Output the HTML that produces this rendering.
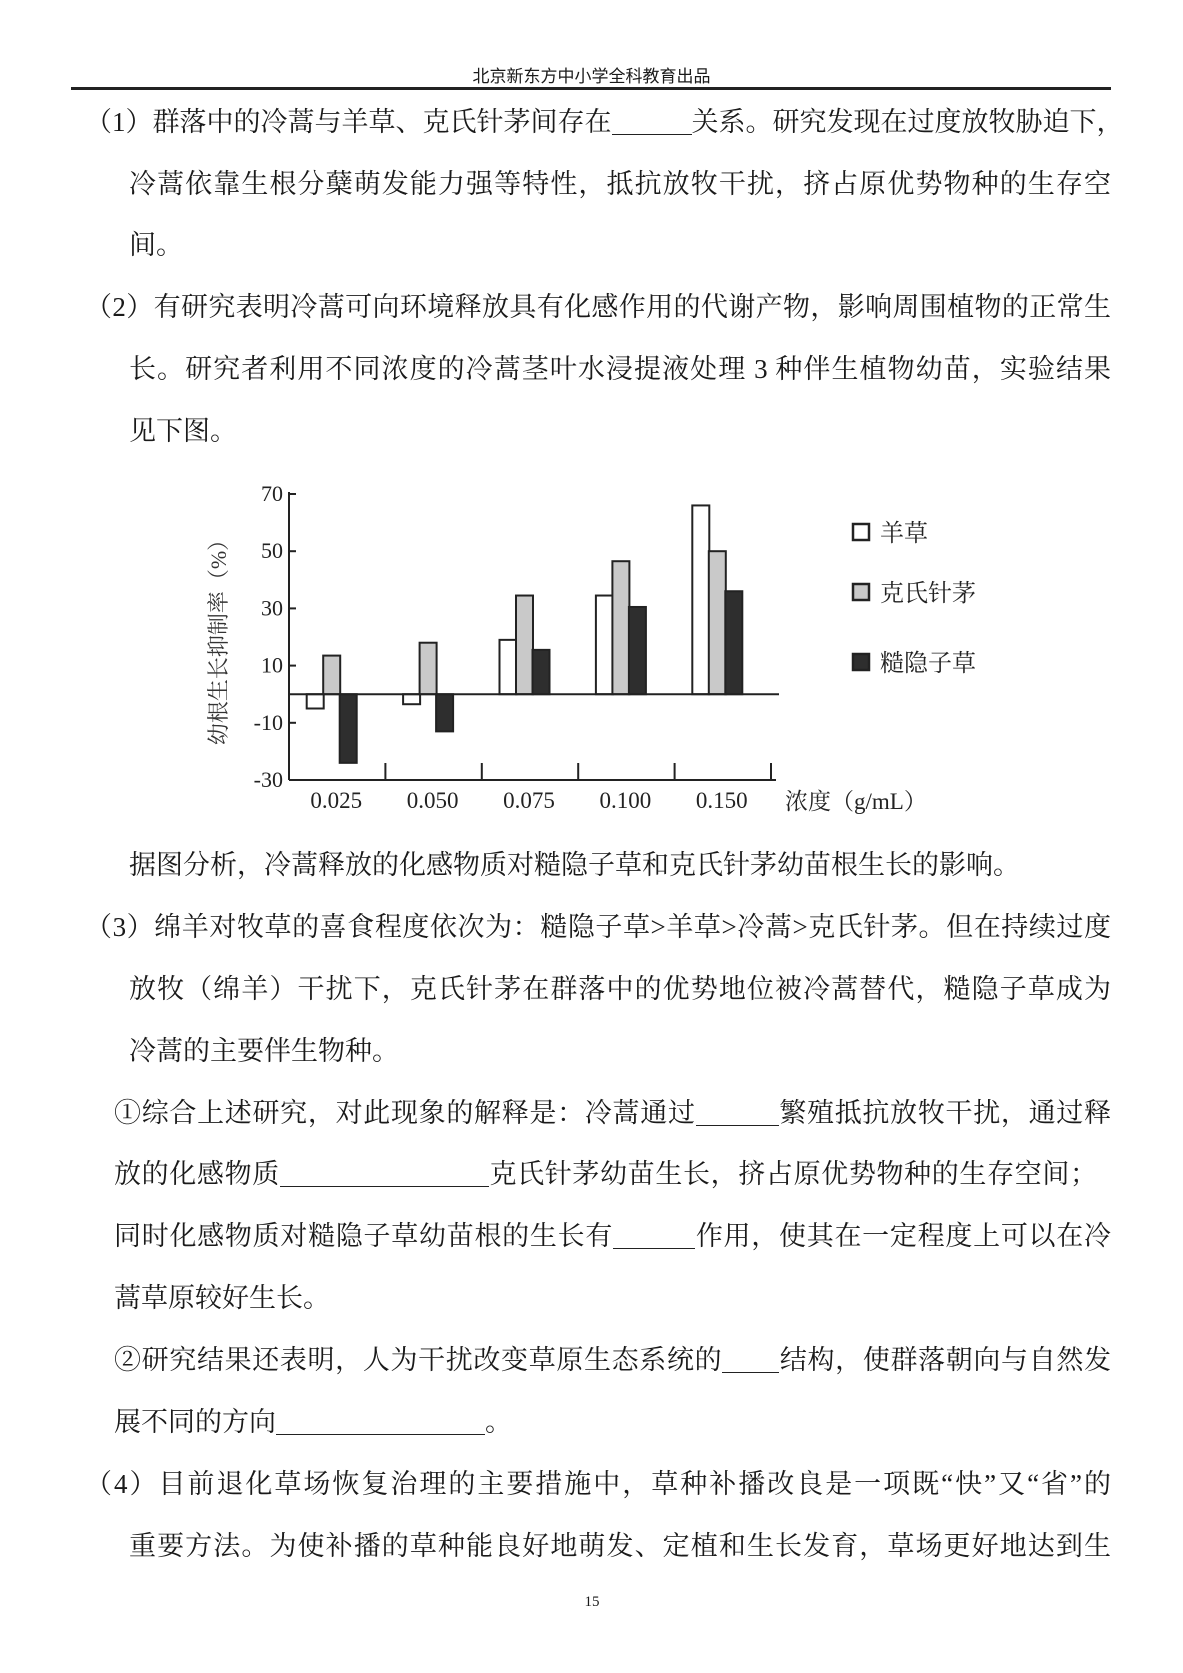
<!DOCTYPE html>
<html><head><meta charset="utf-8">
<style>
html,body{margin:0;padding:0;background:#fff;}
body{width:1183px;height:1673px;position:relative;overflow:hidden;font-family:"Liberation Serif","Noto Serif CJK SC",serif;color:#1a1a1a;}
.ln{position:absolute;height:40px;line-height:40px;font-size:27px;white-space:nowrap;}
.j{text-align:justify;text-align-last:justify;}
.b{display:inline-block;border-bottom:1.5px solid #222;height:30px;vertical-align:-4px;}
</style></head><body>
<div style="position:absolute;left:0;width:1183px;top:62px;text-align:center;font-family:'Liberation Sans','Noto Sans CJK SC',sans-serif;font-size:17px;">北京新东方中小学全科教育出品</div>
<div style="position:absolute;left:71px;top:87px;width:1040px;height:3px;background:#222;"></div>

<div class="ln j" style="left:85px;width:1037px;top:102px;">（1）群落中的冷蒿与羊草、克氏针茅间存在<span class="b" style="width:80px"></span>关系。研究发现在过度放牧胁迫下，</div>
<div class="ln j" style="left:129px;width:982px;top:164px;">冷蒿依靠生根分蘖萌发能力强等特性，抵抗放牧干扰，挤占原优势物种的生存空</div>
<div class="ln" style="left:129px;top:225px;">间。</div>
<div class="ln j" style="left:85px;width:1026px;top:287px;">（2）有研究表明冷蒿可向环境释放具有化感作用的代谢产物，影响周围植物的正常生</div>
<div class="ln j" style="left:129px;width:982px;top:349px;">长。研究者利用不同浓度的冷蒿茎叶水浸提液处理 3 种伴生植物幼苗，实验结果</div>
<div class="ln" style="left:129px;top:411px;">见下图。</div>

<svg id="chart" style="position:absolute;left:0;top:460px;" width="1183" height="380" viewBox="0 460 1183 380"></svg>

<div class="ln" style="left:129px;top:845px;">据图分析，冷蒿释放的化感物质对糙隐子草和克氏针茅幼苗根生长的影响。</div>
<div class="ln j" style="left:85px;width:1026px;top:907px;">（3）绵羊对牧草的喜食程度依次为：糙隐子草&gt;羊草&gt;冷蒿&gt;克氏针茅。但在持续过度</div>
<div class="ln j" style="left:129px;width:982px;top:969px;">放牧（绵羊）干扰下，克氏针茅在群落中的优势地位被冷蒿替代，糙隐子草成为</div>
<div class="ln" style="left:129px;top:1031px;">冷蒿的主要伴生物种。</div>
<div class="ln j" style="left:114px;width:997px;top:1093px;">①综合上述研究，对此现象的解释是：冷蒿通过<span class="b" style="width:83px"></span>繁殖抵抗放牧干扰，通过释</div>
<div class="ln j" style="left:114px;width:983px;top:1154px;">放的化感物质<span class="b" style="width:209px"></span>克氏针茅幼苗生长，挤占原优势物种的生存空间；</div>
<div class="ln j" style="left:114px;width:997px;top:1216px;">同时化感物质对糙隐子草幼苗根的生长有<span class="b" style="width:82px"></span>作用，使其在一定程度上可以在冷</div>
<div class="ln" style="left:114px;top:1278px;">蒿草原较好生长。</div>
<div class="ln j" style="left:114px;width:997px;top:1340px;">②研究结果还表明，人为干扰改变草原生态系统的<span class="b" style="width:57px"></span>结构，使群落朝向与自然发</div>
<div class="ln" style="left:114px;top:1402px;">展不同的方向<span class="b" style="width:209px"></span>。</div>
<div class="ln j" style="left:85px;width:1026px;top:1464px;">（4）目前退化草场恢复治理的主要措施中，草种补播改良是一项既“快”又“省”的</div>
<div class="ln j" style="left:129px;width:982px;top:1526px;">重要方法。为使补播的草种能良好地萌发、定植和生长发育，草场更好地达到生</div>
<div style="position:absolute;left:572px;width:40px;text-align:center;top:1594px;font-size:15px;">15</div>

<script>
const categories = ["0.025","0.050","0.075","0.100","0.150"];
const seriesNames = ["羊草","克氏针茅","糙隐子草"];
const yangcao = [-5, -3.5, 19, 34.5, 66];
const keshi = [13.5, 18, 34.5, 46.5, 50];
const caoyin = [-24, -13, 15.5, 30.5, 36];
const yTicks = [70, 50, 30, 10, -10, -30];
const series = [yangcao, keshi, caoyin];
const fills = ["#ffffff", "#c9c9c9", "#2e2e2e"];

const svg = document.getElementById('chart');
const NS = 'http://www.w3.org/2000/svg';
const x0 = 289, x1 = 771, yTop = 494, yBot = 780, vMax = 70, vMin = -30;
const y = v => yTop + (vMax - v) / (vMax - vMin) * (yBot - yTop);
const band = (x1 - x0) / categories.length;
const xc = i => x0 + band * (i + 0.5) - 5;
const bw = 17;
function el(tag, attrs){ const e=document.createElementNS(NS,tag); for(const k in attrs) e.setAttribute(k,attrs[k]); svg.appendChild(e); return e; }

series.forEach((s, si) => {
  s.forEach((v, i) => {
    const bx = xc(i) - 1.5*bw + si*(bw-0.5);
    const top = Math.min(y(v), y(0)), h = Math.abs(y(v) - y(0));
    const r = el('rect', {x:bx, y:top, width:bw, height:h, fill:fills[si], stroke:'#222', 'stroke-width':2});
    
    
  });
});
const ya = el('line',{x1:x0,y1:yTop-2,x2:x0,y2:yBot,stroke:'#222','stroke-width':2});


const xa = el('line',{x1:x0,y1:yBot,x2:x1+5,y2:yBot,stroke:'#222','stroke-width':2});


const zl = el('line',{x1:x0,y1:y(0),x2:779,y2:y(0),stroke:'#222','stroke-width':2});


yTicks.forEach(t => {
  const tk = el('line',{x1:x0,y1:y(t),x2:x0+7,y2:y(t),stroke:'#222','stroke-width':2});
  
  
  const tx = el('text',{x:x0-6,y:y(t)+7,'text-anchor':'end','font-size':22,'font-family':'Liberation Serif, serif',fill:'#222'});
  tx.textContent = t;
  
  
});
categories.forEach((c, i) => {
  const sx = x0 + band*(i+1);
  const sep = el('line',{x1:sx,y1:yBot-17,x2:sx,y2:yBot,stroke:'#222','stroke-width':2});
  
  
  const tx = el('text',{x:xc(i)+4,y:808,'text-anchor':'middle','font-size':23,'font-family':'Liberation Serif, serif',fill:'#222'});
  tx.textContent = c;
  
  
});
const xt = el('text',{x:785,y:809,'font-size':23,'font-family':'Liberation Serif, Noto Serif CJK SC, serif',fill:'#222'});
xt.textContent = '浓度（g/mL）';


const yt = el('text',{x:0,y:0,'text-anchor':'middle','font-size':22,'font-family':'Liberation Serif, Noto Serif CJK SC, serif',fill:'#333',transform:'translate(226,637) rotate(-90)'});
yt.textContent = '幼根生长抑制率（%）';


const ly = [532, 592, 662];
seriesNames.forEach((n, i) => {
  const sq = el('rect',{x:853,y:ly[i]-8,width:16,height:16,fill:fills[i],stroke:'#222','stroke-width':2.5});
  
  
  const tx = el('text',{x:880,y:ly[i]+9,'font-size':24,'font-family':'Liberation Serif, Noto Serif CJK SC, serif',fill:'#222'});
  tx.textContent = n;
  
  
});
</script>
</body></html>
